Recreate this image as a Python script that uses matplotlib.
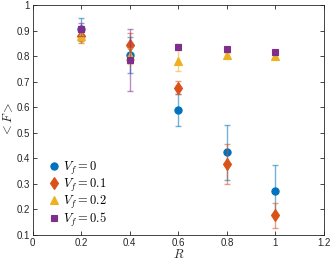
import matplotlib
matplotlib.use("Agg")
from matplotlib import pyplot as plt
import numpy as np

plt.rcParams['mathtext.fontset'] = 'cm'
plt.rcParams['font.family'] = ['Liberation Sans', 'DejaVu Sans']

R = [0.2, 0.4, 0.6, 0.8, 1.0]

# mean <F> and error bar half-widths
f_v0 = [0.905, 0.805, 0.59, 0.424, 0.274]
e_v0 = [0.045, 0.07, 0.062, 0.108, 0.1]
f_v1 = [0.88, 0.845, 0.677, 0.379, 0.177]
e_v1 = [0.03, 0.045, 0.027, 0.079, 0.05]
f_v2 = [0.88, 0.80, 0.782, 0.804, 0.80]
e_v2 = [0.02, 0.03, 0.04, 0.01, 0.005]
f_v5 = [0.905, 0.785, 0.837, 0.826, 0.815]
e_v5 = [0.025, 0.12, 0.01, 0.006, 0.008]

labels = ['$V_f = 0$', '$V_f = 0.1$', '$V_f = 0.2$', '$V_f = 0.5$']
colors = ['#0072BD', '#D95319', '#EDB120', '#7E2F8E']
markers = ['o', 'd', '^', 's']
msizes = [5.2, 6, 5.5, 4.5]

fig = plt.figure(figsize=(3.32, 2.62), dpi=100)
ax = fig.add_axes([0.098, 0.103, 0.878, 0.878])

series = [(f_v0, e_v0), (f_v1, e_v1), (f_v2, e_v2), (f_v5, e_v5)]
for i, (f, e) in enumerate(series):
    ax.errorbar(R, f, yerr=e, fmt='none', ecolor=colors[i], alpha=0.55,
                elinewidth=1.0, capsize=2.5, capthick=1.0)
    ax.plot(R, f, linestyle='none', marker=markers[i], color=colors[i],
            markersize=msizes[i], markeredgewidth=0.8, label=labels[i])

ax.set_xlim(0, 1.2)
ax.set_ylim(0.1, 1.0)
ax.set_xticks([0, 0.2, 0.4, 0.6, 0.8, 1.0, 1.2])
ax.set_xticklabels(['0', '0.2', '0.4', '0.6', '0.8', '1', '1.2'])
ax.set_yticks(np.arange(0.1, 1.01, 0.1))
ax.set_yticklabels(['0.1', '0.2', '0.3', '0.4', '0.5', '0.6', '0.7', '0.8', '0.9', '1'])
ax.tick_params(direction='in', top=True, right=True, length=3, width=0.6,
               labelsize=7, colors='#262626', pad=2)
for s in ax.spines.values():
    s.set_linewidth(0.6)
    s.set_color('#262626')

ax.set_xlabel('$R$', fontsize=9, labelpad=0, color='#262626')
ax.set_ylabel('$<F>$', fontsize=9, labelpad=1, color='#262626')

ax.legend(loc='lower left', bbox_to_anchor=(0.035, 0.005), frameon=False,
          fontsize=9, handletextpad=0.25, labelspacing=0.0, handlelength=1.0,
          borderaxespad=0)

plt.savefig('out.png', dpi=100)
